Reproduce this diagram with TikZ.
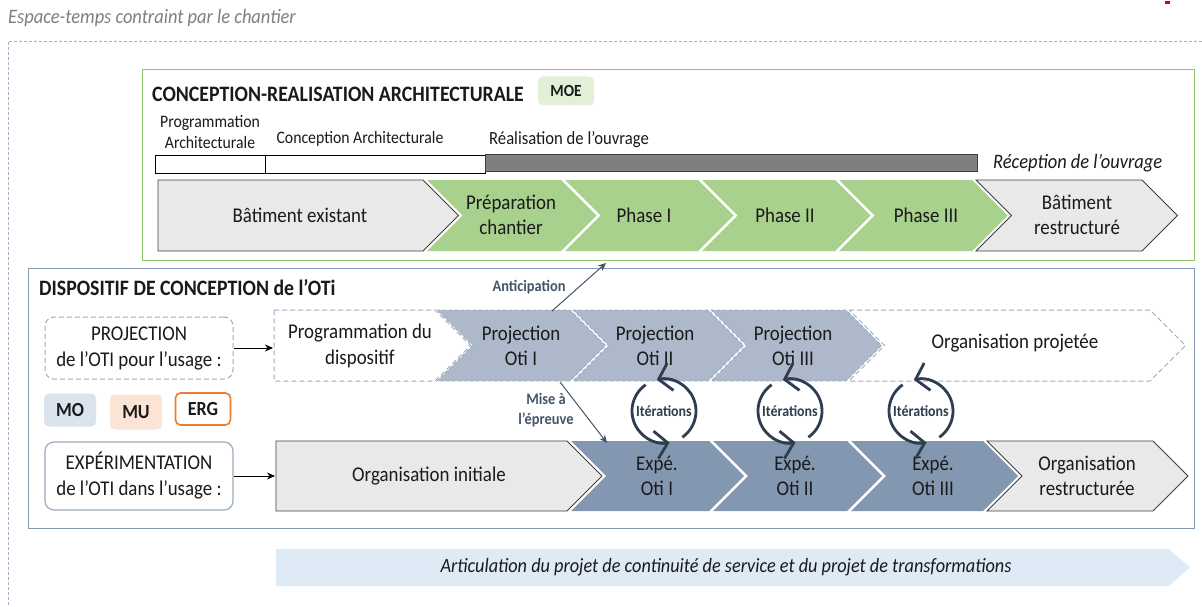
\documentclass[tikz,border=0pt]{standalone}
\usepackage{fontspec}
\setmainfont{Carlito}[FakeStretch=0.9]
\usetikzlibrary{arrows.meta}
\definecolor{txt}{HTML}{1A1A1A}
\definecolor{outerc}{HTML}{9FB3C8}
\definecolor{greenbox}{HTML}{8CC56A}
\definecolor{greenfill}{HTML}{A9D18E}
\definecolor{moefill}{HTML}{E2EFD9}
\definecolor{grayfill}{HTML}{E9E9E9}
\definecolor{grayline}{HTML}{3F3F3F}
\definecolor{darkbar}{HTML}{7F7F7F}
\definecolor{bluebox}{HTML}{8497B0}
\definecolor{projfill}{HTML}{ADB9CA}
\definecolor{expfill}{HTML}{8497B0}
\definecolor{dashcol}{HTML}{9AABC0}
\definecolor{mofill}{HTML}{DAE3EE}
\definecolor{mufill}{HTML}{FBE3D6}
\definecolor{ergcol}{HTML}{ED7D31}
\definecolor{articfill}{HTML}{DEEBF7}
\definecolor{navy}{HTML}{2E3D50}
\definecolor{slate}{HTML}{44546A}
\definecolor{italgray}{HTML}{7F7F7F}
\newcommand\chevN[5]{\path[#1] (#2,#4) -- (#3,#4) -- ({#3+(#5-#4)/2},{(#4+#5)/2}) -- (#3,#5) -- (#2,#5) -- ({#2+(#5-#4)/2},{(#4+#5)/2}) -- cycle;}
\newcommand\chevF[5]{\path[#1] (#2,#4) -- (#3,#4) -- ({#3+(#5-#4)/2},{(#4+#5)/2}) -- (#3,#5) -- (#2,#5) -- cycle;}
\begin{document}
\begin{tikzpicture}[x=1pt,y=-1pt,
  greenc/.style={fill=greenfill},
  grayc/.style={fill=grayfill,draw=grayline,line width=0.9},
  projc/.style={fill=projfill,draw=dashcol,dashed,line width=0.8},
  expc/.style={fill=expfill},
  dashc/.style={fill=white,draw=dashcol,line width=1,dash pattern=on 5pt off 3pt},
  ctext/.style={text=txt,align=center,font=\fontsize{21}{25.5}\selectfont,inner sep=0},
  small/.style={text=txt,align=center,font=\fontsize{17.5}{21}\selectfont,inner sep=0},
  badge/.style={rounded corners=5,minimum width=52,minimum height=33,inner sep=0,text=txt,font=\bfseries\fontsize{20}{22}\selectfont},
  sidebox/.style={rounded corners=9,minimum width=188,inner sep=0,align=center,text=txt,font=\fontsize{21}{26}\selectfont},
  conn/.style={draw=slate,line width=1,-{Stealth[length=8,width=7]}},
  blk/.style={draw=black,line width=1,-{Stealth[length=8,width=7]}},
  iter/.style={draw=navy,line width=2.8,-{Straight Barb[length=12,width=28]}},
  itertxt/.style={text=navy,font=\bfseries\fontsize{15.5}{18}\selectfont,inner sep=0},
  bluelab/.style={text=slate,align=center,font=\bfseries\fontsize{16}{20}\selectfont,inner sep=0}
]
\useasboundingbox (0,0) rectangle (1202,607);
\fill[white] (0,0) rectangle (1202,607);
% red mark
\fill[red!85!black] (1165,1) rectangle (1170,4);
% outer dashed frame
\node[anchor=west,text=italgray,inner sep=0,font=\itshape\fontsize{20.5}{24}\selectfont] (espace) at (8,18) {Espace-temps contraint par le chantier};
\draw[outerc,line width=0.8,dash pattern=on 3pt off 2pt] (1202,41) -- (8,41) -- (8,607);

% ===== green box =====
\node[draw=greenbox,line width=1.3,minimum width=1052,minimum height=191,anchor=north west,inner sep=0] (conc) at (142,69) {};
\node[anchor=west,text=txt,inner sep=0,font=\bfseries\fontsize{22}{24}\selectfont] (conctitle) at (152,94) {CONCEPTION-REALISATION ARCHITECTURALE};
\node[fill=moefill,rounded corners=5,minimum width=56,minimum height=29,inner sep=0,text=txt,font=\bfseries\fontsize{17}{20}\selectfont] (moe) at (566,91) {MOE};
\node[small] (progarch) at (210,132) {Programmation\\Architecturale};
\node[small] (concarch) at (360,139) {Conception Architecturale};
\node[small,anchor=west,font=\fontsize{18.5}{21}\selectfont] (realis) at (489,140) {Réalisation de l’ouvrage};
\draw[black,line width=0.9,fill=white] (155,155) rectangle (265,173);
\draw[black,line width=0.9,fill=white] (265,155) rectangle (485,173);
\draw[grayline,line width=0.9,fill=darkbar] (485,154) rectangle (977,171);
\node[anchor=west,text=txt,inner sep=0,font=\itshape\fontsize{20.5}{24}\selectfont] (recep) at (993,163) {Réception de l’ouvrage};

\chevF{grayc}{158}{423}{180}{251}
\chevN{greenc}{427}{561}{180}{251}
\chevN{greenc}{565}{698}{180}{251}
\chevN{greenc}{702}{835}{180}{251}
\chevN{greenc}{839}{972}{180}{251}
\chevN{grayc}{976}{1142}{180}{251}
\node[ctext] (batex) at (300,215) {Bâtiment existant};
\node[ctext] (prep) at (511,215) {Préparation\\chantier};
\node[ctext] (ph1) at (644,215) {Phase I};
\node[ctext] (ph2) at (785,215) {Phase II};
\node[ctext] (ph3) at (926,215) {Phase III};
\node[ctext] (batre) at (1077,215) {Bâtiment\\restructuré};

% ===== blue box =====
\node[draw=bluebox,line width=1,minimum width=1166,minimum height=260,anchor=north west,inner sep=0] (disp) at (28,268) {};
\node[anchor=west,text=txt,inner sep=0,font=\bfseries\fontsize{22}{24}\selectfont] (disptitle) at (39,288) {DISPOSITIF DE CONCEPTION de l’OTi};

\chevF{dashc}{274}{435}{310}{381}
\chevN{projc}{437}{570}{310}{381}
\chevN{projc}{573}{708}{310}{381}
\chevN{projc}{711}{846}{310}{381}
\chevN{dashc}{849}{1150}{310}{381}
\node[ctext] (progdisp) at (360,346) {Programmation du\\dispositif};
\node[ctext] (poti1) at (521,346) {Projection\\Oti I};
\node[ctext] (poti2) at (655,346) {Projection\\Oti II};
\node[ctext] (poti3) at (793,346) {Projection\\Oti III};
\node[ctext] (orgproj) at (1015,343) {Organisation projetée};

\chevF{grayc}{276}{567}{441}{511}
\chevN{expc}{571}{709}{441}{511}
\chevN{expc}{713}{847}{441}{511}
\chevN{expc}{851}{983}{441}{511}
\chevN{grayc}{987}{1153}{441}{511}
\node[ctext] (orginit) at (429,476) {Organisation initiale};
\node[ctext] (exp1) at (657,476) {Expé.\\Oti I};
\node[ctext] (exp2) at (795,476) {Expé.\\Oti II};
\node[ctext] (exp3) at (933,476) {Expé.\\Oti III};
\node[ctext] (orgre) at (1087,476) {Organisation\\restructurée};

% side boxes
\node[sidebox,draw=dashcol,line width=1,dash pattern=on 5pt off 3pt,minimum height=62] (projbox) at (139,348) {PROJECTION\\de l’OTI pour l’usage :};
\node[sidebox,draw=dashcol,line width=1.2,minimum height=68] (expbox) at (139,476) {EXPÉRIMENTATION\\de l’OTI dans l’usage :};
\coordinate (progdispW) at (273,348);
\coordinate (orginitW) at (275,476);
\draw[blk] (projbox.east) -- (progdispW);
\draw[blk] (expbox.east) -- (orginitW);

% badges
\node[badge,fill=mofill] (mo) at (70,410) {MO};
\node[badge,fill=mufill,minimum height=35] (mu) at (136,412) {\raisebox{-2pt}{MU}};
\node[badge,fill=white,draw=ergcol,line width=1.6,minimum width=55,minimum height=32] (erg) at (203,409) {ERG};

% anticipation / mise a l'epreuve
\node[bluelab] (antlab) at (529,287) {Anticipation};
\node[bluelab] (mislab) at (546,410) {Mise à\\l’épreuve};
\coordinate (antS) at (552,311);
\coordinate (antE) at (606,263);
\coordinate (misS) at (560,382);
\coordinate (misE) at (607,443);
\draw[conn] (antS) -- (antE);
\draw[conn] (misS) -- (misE);

% iteration circles
\foreach \cx/\nm in {664/it1,790/it2,921/it3}{
  \coordinate (\nm) at (\cx,411);
  \draw[iter] ([shift={(55:32)}]\nm) arc[start angle=55,end angle=-103,radius=32];
  \draw[iter] ([shift={(-125:32)}]\nm) arc[start angle=-125,end angle=-280,radius=32];
  \node[itertxt] (\nm t) at (\nm) {Itérations};
}

% articulation arrow
\path[fill=articfill] (276,549) -- (1169,549) -- (1190,567.5) -- (1169,586) -- (276,586) -- cycle;
\node[text=txt,inner sep=0,font=\itshape\fontsize{20.3}{24}\selectfont] (artic) at (726,567) {Articulation du projet de continuité de service et du projet de transformations};
\end{tikzpicture}
\end{document}
